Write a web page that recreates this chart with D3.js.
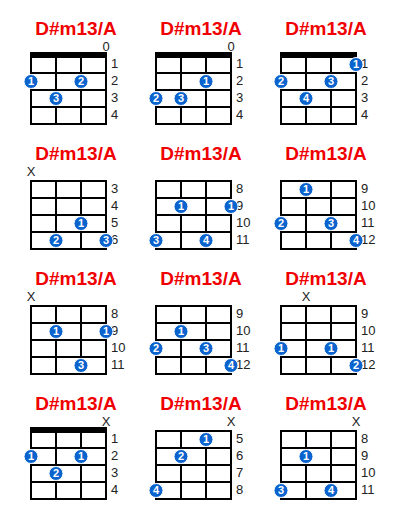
<!DOCTYPE html>
<html>
<head>
<meta charset="utf-8">
<script src="https://cdn.jsdelivr.net/npm/d3@7"></script>
<style>
  body { margin: 0; background: #fff; }
  svg { display: block; font-family: "Liberation Sans", Arial, sans-serif; }
</style>
</head>
<body>
<div id="chart"></div>
<script>
// chord name shown above every diagram
var chordName = "D#m13/A";

// first fret shown on each diagram (row by row, left to right)
var startFrets = [1, 1, 1, 3, 8, 9, 8, 9, 9, 1, 5, 8];

// marks above the strings (G C E A)
var topMarks = [
  ["", "", "", "0"], ["", "", "", "0"], ["", "", "", ""],
  ["X", "", "", ""], ["", "", "", ""], ["", "", "", ""],
  ["X", "", "", ""], ["", "", "", ""], ["", "X", "", ""],
  ["", "", "", "X"], ["", "", "", "X"], ["", "", "", "X"]
];

// dots: [string, fret, finger]
var shape1  = [[0, 2, 1], [2, 2, 2], [1, 3, 3]];
var shape2  = [[2, 2, 1], [0, 3, 2], [1, 3, 3]];
var shape3  = [[3, 1, 1], [0, 2, 2], [2, 2, 3], [1, 3, 4]];
var shape4  = [[2, 5, 1], [1, 6, 2], [3, 6, 3]];
var shape5  = [[1, 9, 1], [3, 9, 1], [0, 11, 3], [2, 11, 4]];
var shape6  = [[1, 9, 1], [0, 11, 2], [2, 11, 3], [3, 12, 4]];
var shape7  = [[1, 9, 1], [3, 9, 1], [2, 11, 3]];
var shape8  = [[1, 10, 1], [0, 11, 2], [2, 11, 3], [3, 12, 4]];
var shape9  = [[0, 11, 1], [2, 11, 1], [3, 12, 2]];
var shape10 = [[0, 2, 1], [2, 2, 1], [1, 3, 2]];
var shape11 = [[2, 5, 1], [1, 6, 2], [0, 8, 4]];
var shape12 = [[1, 9, 1], [0, 11, 3], [2, 11, 4]];

var shapes = [shape1, shape2, shape3, shape4, shape5, shape6,
              shape7, shape8, shape9, shape10, shape11, shape12];

var width = 400, height = 520;
var gridW = 75, gridH = 68;

var svg = d3.select("#chart").append("svg")
    .attr("width", width)
    .attr("height", height);

// string positions and fret rows inside one diagram
var x = d3.scaleLinear().domain([0, 3]).range([0, gridW]);

shapes.forEach(function(dots, i) {
  var col = i % 3, row = Math.floor(i / 3);
  var start = startFrets[i];
  var frets = d3.range(start, start + 4);

  var y = d3.scaleBand().domain(frets).range([0, gridH]);

  var g = svg.append("g")
      .attr("transform", "translate(" + (31 + col * 125) + "," + (56 + row * 125) + ")");

  // title
  g.append("text")
      .attr("x", 45)
      .attr("y", -21)
      .attr("text-anchor", "middle")
      .attr("font-size", "19px")
      .attr("font-weight", "bold")
      .attr("fill", "#f00000")
      .text(chordName);

  // fret lines
  g.selectAll("line.fret")
    .data(d3.range(0, 5))
    .enter().append("line")
      .attr("class", "fret")
      .attr("x1", -1).attr("x2", gridW + 1)
      .attr("y1", function(d) { return d * y.step(); })
      .attr("y2", function(d) { return d * y.step(); })
      .attr("stroke", "#000")
      .attr("stroke-width", 2);

  // strings
  g.selectAll("line.string")
    .data(d3.range(0, 4))
    .enter().append("line")
      .attr("class", "string")
      .attr("x1", function(d) { return x(d); })
      .attr("x2", function(d) { return x(d); })
      .attr("y1", 0).attr("y2", gridH)
      .attr("stroke", "#000")
      .attr("stroke-width", 2);

  // nut
  if (start === 1) {
    g.append("rect")
        .attr("x", -1).attr("y", -4)
        .attr("width", gridW + 2).attr("height", 6)
        .attr("fill", "#000");
  }

  // fret numbers
  var ax = g.append("g")
      .attr("transform", "translate(" + (gridW + 4) + ",-1)")
      .call(d3.axisRight(y).tickSize(0).tickPadding(1));
  ax.select(".domain").remove();
  ax.selectAll("text")
      .attr("font-size", "13px")
      .attr("font-family", "Liberation Sans, Arial, sans-serif")
      .attr("fill", "#222");

  // open / muted marks
  g.selectAll("text.mark")
    .data(topMarks[i])
    .enter().append("text")
      .attr("class", "mark")
      .attr("x", function(d, s) { return x(s); })
      .attr("y", -5)
      .attr("text-anchor", "middle")
      .attr("font-size", "13px")
      .attr("fill", "#222")
      .text(function(d) { return d; });

  // finger dots
  var dot = g.selectAll("g.dot")
    .data(dots)
    .enter().append("g")
      .attr("class", "dot")
      .attr("transform", function(d) {
        return "translate(" + x(d[0]) + "," + (y(d[1]) + y.bandwidth() / 2) + ")";
      });

  dot.append("circle")
      .attr("r", 7)
      .attr("fill", "#0b63ce")
      .attr("stroke", "#fff")
      .attr("stroke-width", 1);

  dot.append("text")
      .attr("text-anchor", "middle")
      .attr("dy", "0.36em")
      .attr("font-size", "11px")
      .attr("font-weight", "bold")
      .attr("fill", "#fff")
      .text(function(d) { return d[2]; });
});
</script>
</body>
</html>
